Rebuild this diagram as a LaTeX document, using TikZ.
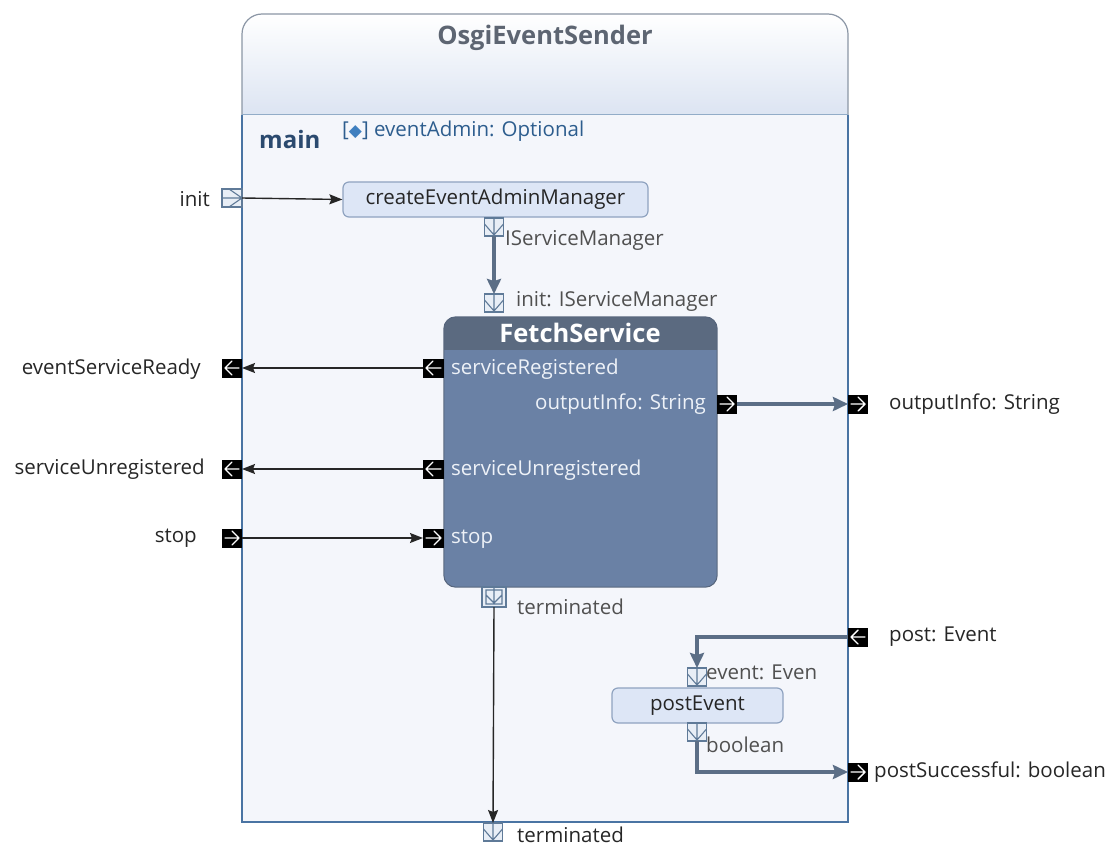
\documentclass[tikz,border=0pt]{standalone}
\usepackage{fontspec}
\setmainfont{Open Sans}
\newfontfamily\symfont{DejaVu Sans}
\usetikzlibrary{arrows.meta}

\definecolor{framebody}{HTML}{F4F6FB}
\definecolor{headbot}{HTML}{DCE4F2}
\definecolor{headline}{HTML}{8B96A5}
\definecolor{frameline}{HTML}{4A74A3}
\definecolor{titlegray}{HTML}{5D6572}
\definecolor{mainblue}{HTML}{2B4A6F}
\definecolor{attrblue}{HTML}{2D5D8E}
\definecolor{gemblue}{HTML}{3F7FBF}
\definecolor{pinline}{HTML}{5F7A98}
\definecolor{pinfill}{HTML}{E8EEF6}
\definecolor{flow}{HTML}{5B6E86}
\definecolor{callfill}{HTML}{DDE6F6}
\definecolor{callline}{HTML}{8FA3C0}
\definecolor{subhead}{HTML}{5B6A80}
\definecolor{subbody}{HTML}{6A81A5}
\definecolor{subline}{HTML}{56657C}
\definecolor{sublabel}{HTML}{EEF2F8}
\definecolor{labelblack}{HTML}{262626}
\definecolor{labelgray}{HTML}{505050}

\tikzset{
  lbl/.style={inner sep=0pt, text=labelblack},
  inlbl/.style={inner sep=0pt, text=labelgray},
  sublbl/.style={inner sep=0pt, text=sublabel},
  call/.style={draw=callline, fill=callfill, line width=1.2pt, rounded corners=6pt,
    inner sep=0pt, text=labelblack},
  subsys/.style={inner sep=0pt},
  portblk/.style={fill=black, draw=none, minimum width=20pt, minimum height=19pt,
    inner sep=0pt, outer sep=0pt},
  portleft/.style={portblk, path picture={
    \draw[white, line width=1.4pt, line cap=round, line join=round]
      ([xshift=-3pt]path picture bounding box.east) -- ([xshift=3pt]path picture bounding box.west)
      ([xshift=10pt,yshift=7pt]path picture bounding box.west) -- ([xshift=3pt]path picture bounding box.west)
      -- ([xshift=10pt,yshift=-7pt]path picture bounding box.west);}},
  portright/.style={portblk, path picture={
    \draw[white, line width=1.4pt, line cap=round, line join=round]
      ([xshift=3pt]path picture bounding box.west) -- ([xshift=-3pt]path picture bounding box.east)
      ([xshift=-10pt,yshift=7pt]path picture bounding box.east) -- ([xshift=-3pt]path picture bounding box.east)
      -- ([xshift=-10pt,yshift=-7pt]path picture bounding box.east);}},
  pinbase/.style={draw=pinline, fill=pinfill, line width=1.1pt, minimum width=19pt,
    minimum height=18pt, inner sep=0pt, outer sep=0pt},
  pindown/.style={pinbase, path picture={
    \draw[pinline, line width=1.1pt]
      (path picture bounding box.north) -- (path picture bounding box.south)
      ([yshift=-6pt]path picture bounding box.north west) -- ([yshift=1pt]path picture bounding box.south)
      -- ([yshift=-6pt]path picture bounding box.north east);}},
  pindbl/.style={pinbase, minimum width=24pt, minimum height=20pt, path picture={
    \draw[pinline, line width=1.1pt]
      ([shift={(4pt,-3pt)}]path picture bounding box.north west) rectangle
      ([shift={(-4pt,3pt)}]path picture bounding box.south east)
      (path picture bounding box.north) -- ([yshift=3pt]path picture bounding box.south)
      ([shift={(4pt,-8pt)}]path picture bounding box.north west) -- ([yshift=4pt]path picture bounding box.south)
      -- ([shift={(-4pt,-8pt)}]path picture bounding box.north east);}},
  pinright/.style={pinbase, minimum width=20pt, path picture={
    \draw[pinline, line width=1.1pt]
      (path picture bounding box.west) -- (path picture bounding box.east)
      ([xshift=7pt]path picture bounding box.north west) -- (path picture bounding box.east)
      -- ([xshift=7pt]path picture bounding box.south west);}},
  thinarrow/.style={draw=black!85, line width=1.4pt, -{Stealth[length=13pt,width=10pt,inset=2pt]}},
  flowarrow/.style={draw=flow, line width=4pt, -{Stealth[length=15pt,width=14pt,inset=2pt]}},
}

\begin{document}
\begin{tikzpicture}[x=1pt, y=-1pt, font=\fontsize{20.5}{24}\selectfont]
\useasboundingbox (0,0) rectangle (1117,848);

% component frame: header band and body
\fill[framebody] (242,115) rectangle (848,822);
\shade[top color=white, bottom color=headbot]
  (242,115) [rounded corners=20pt] -- (242,14) -- (848,14) [sharp corners] -- (848,115) -- cycle;
\draw[headline, line width=1.2pt]
  (242,115) [rounded corners=20pt] -- (242,14) -- (848,14) [sharp corners] -- (848,115);
\draw[frameline, line width=1.3pt] (242,115) -- (242,822) -- (848,822) -- (848,115);
\draw[frameline!60, line width=1pt] (242,115) -- (848,115);

\node[font=\fontsize{25.5}{30}\selectfont\bfseries, text=titlegray] (title) at (545,38) {OsgiEventSender};
\node[anchor=west, inner sep=0pt, font=\fontsize{24}{28}\selectfont\bfseries, text=mainblue] (main) at (259,140) {main};
\node[anchor=west, inner sep=0pt, text=attrblue] (attr) at (342,131)
  {[{\symfont\fontsize{17}{18}\selectfont\color{gemblue}◆}] eventAdmin: Optional};

% init flow
\node[pinright] (initport) at (232,198) {};
\node[lbl, anchor=east] (initlbl) at (210,199) {init};
\node[call, minimum width=305pt, minimum height=35pt] (create) at (495.5,199.5) {createEventAdminManager};
\node[pindown] (ismout) at (494,227) {};
\node[inlbl, anchor=west] (ismlbl) at (505,240) {IServiceManager};
\node[pindown] (fsin) at (494,303) {};
\node[inlbl, anchor=west] (fsinlbl) at (516,301) {init: IServiceManager};

% FetchService sub-component
\node[subsys, minimum width=273pt, minimum height=270pt] (fs) at (580.5,452) {};
\begin{scope}
  \clip[rounded corners=12pt] (fs.south west) rectangle (fs.north east);
  \fill[subbody] (fs.south west) rectangle (fs.north east);
  \fill[subhead] (fs.north west) rectangle ([yshift=-33pt]fs.north east);
\end{scope}
\draw[subline, line width=1pt, rounded corners=12pt] (fs.south west) rectangle (fs.north east);
\node[font=\fontsize{25.5}{30}\selectfont\bfseries, text=white] (fstitle) at (580,333) {FetchService};

\node[portleft, minimum width=21pt] (fsreg) at (433.5,368) {};
\node[sublbl, anchor=west] (fsreglbl) at (451,369) {serviceRegistered};
\node[portright] (fsout) at (727,404) {};
\node[sublbl, anchor=east] (fsoutlbl) at (706,404) {outputInfo: String};
\node[portleft, minimum width=21pt] (fsunreg) at (433.5,469) {};
\node[sublbl, anchor=west] (fsunreglbl) at (451,470) {serviceUnregistered};
\node[portright, minimum width=21pt] (fsstop) at (433.5,538) {};
\node[sublbl, anchor=west] (fsstoplbl) at (451,539) {stop};
\node[pindbl] (fsterm) at (494,597) {};
\node[inlbl, anchor=west] (fstermlbl) at (517,607) {terminated};

% boundary ports
\node[portleft] (esr) at (232,368) {};
\node[lbl, anchor=east] (esrlbl) at (201,369) {eventServiceReady};
\node[portleft] (sunreg) at (232,469) {};
\node[lbl, anchor=east] (sunreglbl) at (205,469) {serviceUnregistered};
\node[portright] (stop) at (232,538) {};
\node[lbl, anchor=east] (stoplbl) at (197,538) {stop};
\node[portright] (outinfo) at (858,404) {};
\node[lbl, anchor=west] (outinfolbl) at (889,404) {outputInfo: String};
\node[portleft] (post) at (858,637) {};
\node[lbl, anchor=west] (postlbl) at (889,637) {post: Event};
\node[portright] (psucc) at (858,772) {};
\node[lbl, anchor=west] (psucclbl) at (874,772) {postSuccessful: boolean};
\node[pindown] (term) at (493,832) {};
\node[lbl, anchor=west] (termlbl) at (517,835) {terminated};

% postEvent call
\node[pindown] (evin) at (697,677) {};
\node[inlbl, anchor=west] (evinlbl) at (706,672) {event: Even};
\node[call, minimum width=171pt, minimum height=35pt] (postev) at (697.5,705.5) {postEvent};
\node[pindown] (boolout) at (697,732) {};
\node[inlbl, anchor=west] (boollbl) at (706,745) {boolean};

% connectors
\draw[thinarrow] (initport.east) -- (create.west);
\draw[flowarrow] (ismout.south) -- (fsin.north);
\draw[thinarrow] (fsreg.west) -- (esr.east);
\draw[thinarrow] (fsunreg.west) -- (sunreg.east);
\draw[thinarrow] (stop.east) -- (fsstop.west);
\draw[flowarrow] (fsout.east) -- (outinfo.west);
\draw[flowarrow] (post.west) -| (evin.north);
\draw[flowarrow] (boolout.south) |- (psucc.west);
\draw[thinarrow] (fsterm.south) -- (term.north);
\end{tikzpicture}
\end{document}
